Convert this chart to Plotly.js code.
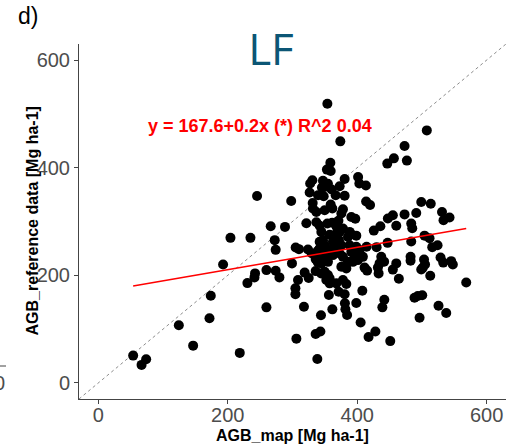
<!DOCTYPE html>
<html>
<head>
<meta charset="utf-8">
<script src="https://cdn.plot.ly/plotly-3.0.1.min.js"></script>
<style>html,body{margin:0;padding:0;background:#fff;}#chart{width:508px;height:444px;}</style>
</head>
<body>
<div id="chart"></div>
<script>
// AGB map values (x) and reference values (y), Mg ha-1
const agbMap = [53.7,73.8,66.7,124.3,146.4,171.7,173.7,192.7,204.1,235.0,218.5,230.3,242.1,241.2,245.2,259.7,274.0,279.8,259.7,266.3,288.4,272.5,274.0,298.0,299.2,304.9,310.0,304.5,304.5,308.5,306.0,
353.9,507.6,373.9,473.2,456.7,446.5,476.8,358.5,353.2,359.0,330.7,327.3,347.1,354.8,349.7,380.6,401.4,403.3,413.5,372.9,360.5,366.7,345.5,326.5,339.4,348.2,380.6,331.2,331.6,359.0,349.7,336.9,361.6,378.0,375.5,413.8,419.9,499.0,513.7,531.1,542.7,533.4,491.3,473.2,455.1,447.4,460.4,435.8,425.7,483.5,485.1,390.9,397.1,371.0,368.2,
321.4,336.9,342.0,353.9,361.3,378.0,344.6,357.4,367.8,372.9,388.3,390.9,398.6,385.7,504.1,511.8,483.5,516.0,524.2,342.0,347.1,362.5,371.8,375.5,349.7,365.1,388.3,398.6,403.7,414.5,430.0,447.0,482.5,482.5,503.3,504.9,528.8,533.0,545.3,547.8,501.5,499.0,512.9,568.5,488.6,493.7,500.5,525.7,537.6,496.4,
323.9,329.6,339.4,342.0,335.8,346.6,338.9,351.2,345.1,354.8,344.6,357.4,367.8,362.5,372.9,378.0,390.9,396.0,401.1,393.4,385.7,408.8,437.2,441.6,434.6,460.4,342.0,349.7,
318.8,325.0,335.8,344.3,349.7,354.8,357.4,352.3,357.4,367.8,371.3,378.0,383.2,380.6,375.5,383.2,411.4,415.3,432.0,433.1,455.1,464.4,407.9,356.2,317.7,344.0,361.6,398.6,381.0,381.8,384.4,441.9,438.9,405.3,335.8,343.1,417.6,428.1,451.1,338.4];
const agbRef = [50.7,44.0,33.4,107.1,69.2,120.0,162.0,220.2,269.6,269.6,55.7,185.5,203.5,196.1,347.5,209.6,208.4,196.1,140.4,291.3,290.0,265.3,247.3,338.2,222.1,251.8,248.6,175.7,164.6,191.1,82.2,
518.9,469.4,449.0,440.3,417.4,407.6,413.2,409.1,396.5,393.9,376.6,370.5,375.7,370.1,364.2,379.0,382.7,370.5,367.0,365.5,359.4,348.8,363.1,353.8,348.8,346.9,347.9,334.5,324.1,331.5,321.0,317.8,324.1,322.8,314.8,337.3,330.6,336.4,333.0,317.8,307.4,302.4,315.8,313.2,311.7,305.6,292.2,291.3,283.1,296.3,287.6,308.5,305.2,301.5,290.4,
296.8,298.7,292.2,296.3,297.8,287.0,280.7,275.5,277.7,280.7,280.7,276.4,273.7,271.4,273.7,269.0,262.9,252.3,256.0,262.2,265.3,262.2,265.3,256.0,256.0,249.9,256.0,253.2,246.8,253.2,252.3,260.3,234.3,226.9,229.5,219.9,233.2,223.6,226.3,220.2,214.3,210.9,199.1,186.5,158.3,161.4,162.9,143.4,129.9,121.2,
248.1,241.2,245.5,235.6,230.1,226.3,224.5,231.9,244.9,225.0,222.1,246.8,243.6,237.5,240.6,234.3,243.6,234.3,228.2,225.0,225.0,234.3,234.3,225.4,222.1,222.1,249.9,243.6,
205.0,194.8,207.8,203.5,206.5,200.4,194.2,191.1,185.0,185.0,169.4,191.1,183.7,164.6,215.8,212.8,214.3,208.7,214.3,203.5,210.6,193.5,171.2,163.3,141.6,125.6,136.7,148.4,147.9,136.9,126.2,154.5,140.4,112.2,90.9,95.5,85.3,95.5,77.6,44.5];
// fitted regression line (end points)
const fitX = [53.7, 568.5];
const fitY = [180, 287];
// 1:1 reference line
const oneToOne = [-30, 630];
const tickVals = [0, 200, 400, 600];
const tickText = ['0', '200', '400', '600'];

const traces = [
  {x: oneToOne, y: oneToOne, mode: 'lines', line: {color: '#6e6e6e', width: 0.8, dash: '3px,3px'}, hoverinfo: 'skip', showlegend: false},
  {x: agbMap, y: agbRef, mode: 'markers', marker: {size: 10, color: '#000000'}, showlegend: false},
  {x: fitX, y: fitY, mode: 'lines', line: {color: '#FF0000', width: 1.4}, showlegend: false}
];

const axisCommon = {
  range: [-30, 630], tickvals: tickVals, ticktext: tickText, showgrid: false, zeroline: false,
  showline: true, linecolor: '#444', linewidth: 1, ticks: 'outside', ticklen: 4, tickcolor: '#444',
  tickfont: {family: 'Liberation Sans, Arial, sans-serif', size: 20, color: '#4D4D4D'}
};

const layout = {
  width: 508, height: 444,
  margin: {l: 79, r: 2, t: 44, b: 45},
  paper_bgcolor: '#ffffff', plot_bgcolor: '#ffffff',
  title: {text: 'LF', x: 271/508, xanchor: 'center', y: 1 - 50/444, yanchor: 'middle',
          font: {family: 'Open Sans, sans-serif', size: 44, color: '#0C5675'}},
  xaxis: Object.assign({}, axisCommon, {ticklabelstandoff: -6}),
  yaxis: Object.assign({}, axisCommon),
  showlegend: false,
  annotations: [
    {text: 'y = 167.6+0.2x (*) R^2 0.04', xref: 'x', yref: 'y', x: 250, y: 477, showarrow: false,
     xanchor: 'center', yanchor: 'middle', font: {family: 'Liberation Sans, Arial, sans-serif', size: 18, color: '#FF0000', weight: 'bold'}},
    {text: 'd)', xref: 'paper', yref: 'paper', x: (16 - 79)/427, y: (399 - 16)/355, showarrow: false,
     xanchor: 'left', yanchor: 'middle', font: {family: 'Liberation Sans, Arial, sans-serif', size: 23, color: '#000000'}},
    {text: '<b>AGB_map [Mg ha-1]</b>', xref: 'paper', yref: 'paper', x: 0.5, y: (399 - 435)/355, showarrow: false,
     xanchor: 'center', yanchor: 'middle', font: {family: 'Liberation Sans, Arial, sans-serif', size: 16, color: '#000000'}},
    {text: '<b>AGB_reference data [Mg ha-1]</b>', xref: 'paper', yref: 'paper', x: (32 - 79)/427, y: 0.5, showarrow: false,
     textangle: -90, xanchor: 'center', yanchor: 'middle', font: {family: 'Liberation Sans, Arial, sans-serif', size: 16, color: '#000000'}},
    {text: '00', xref: 'paper', yref: 'paper', x: (7 - 79)/427, y: (399 - 383)/355, showarrow: false,
     xanchor: 'right', yanchor: 'middle', font: {family: 'Liberation Sans, Arial, sans-serif', size: 20, color: '#4D4D4D'}}
  ],
  shapes: [
    {type: 'line', xref: 'paper', yref: 'paper', x0: -79/427, x1: (6 - 79)/427, y0: (399 - 366)/355, y1: (399 - 366)/355,
     line: {color: '#444', width: 1}}
  ]
};

Plotly.newPlot('chart', traces, layout, {staticPlot: true, displayModeBar: false});
</script>
</body>
</html>
